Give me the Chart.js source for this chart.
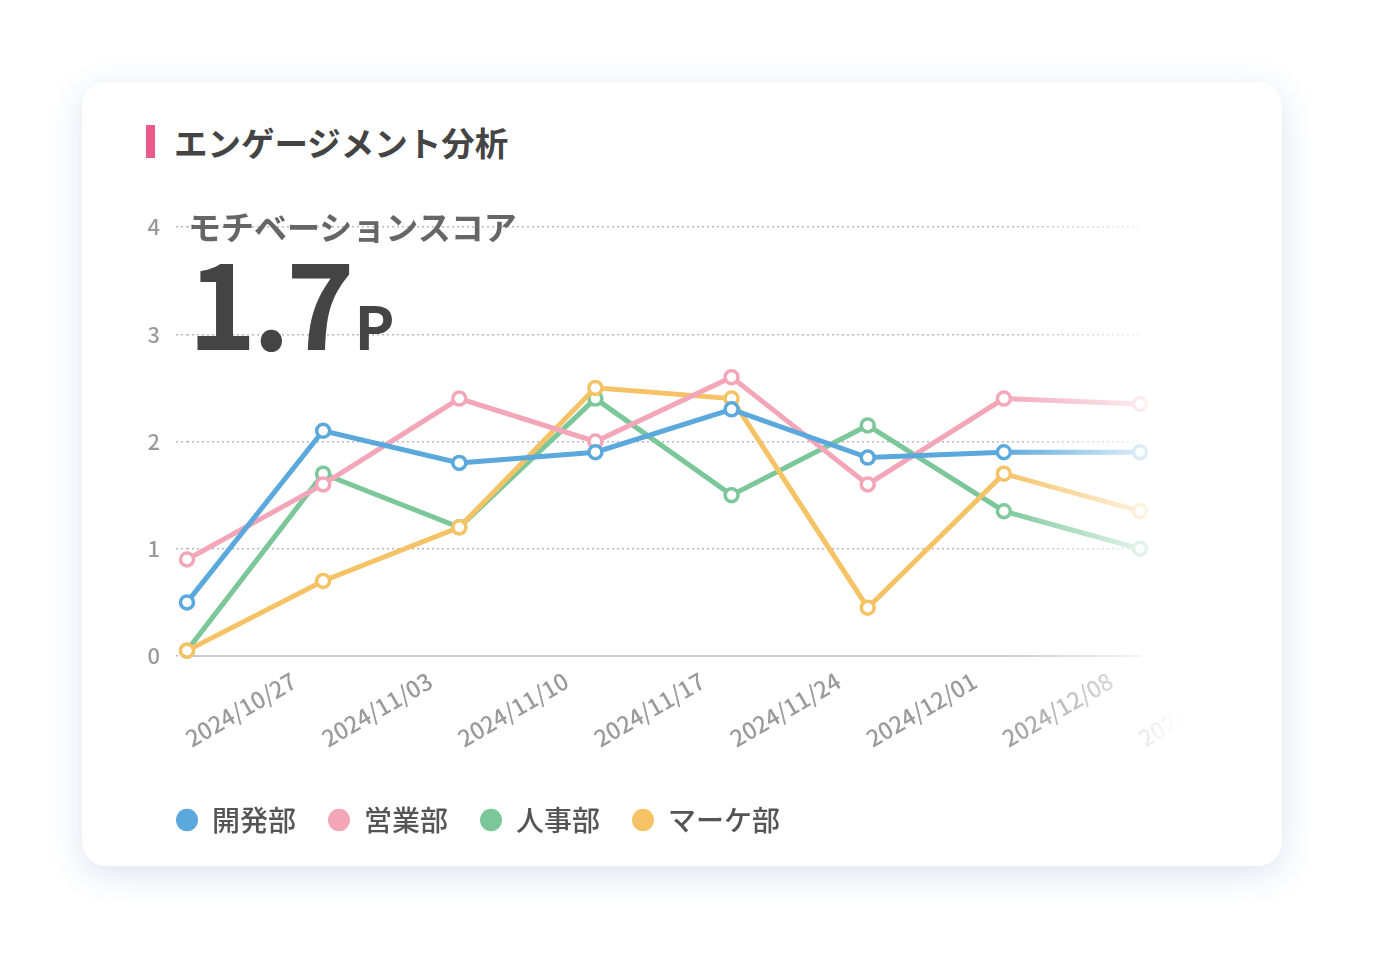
<!DOCTYPE html>
<html lang="ja">
<head>
<meta charset="utf-8">
<title>エンゲージメント分析</title>
<script src="https://cdn.jsdelivr.net/npm/chart.js@4.4.1/dist/chart.umd.min.js"></script>
<style>
  html, body { margin: 0; padding: 0; background: #fff; }
  body { width: 1376px; height: 960px; position: relative; font-family: "Noto Sans CJK JP", "Noto Sans", sans-serif; }
  .card {
    position: absolute; left: 82px; top: 82px; width: 1200px; height: 784px;
    background: #fff; border-radius: 24px;
    box-shadow: 0 8px 32px rgba(60, 100, 170, 0.18);
  }
  .title {
    position: absolute; left: 64px; top: 37px; height: 44px;
    display: flex; align-items: center;
    font-size: 33.5px; font-weight: 700; color: #444;
  }
  .title::before {
    content: ""; display: inline-block; width: 9px; height: 33px;
    background: #ea5b8c; margin-right: 19px;
  }
  .chart-wrap {
    position: absolute; left: 62px; top: 110px; width: 1036px; height: 652px;
  }
  .chart-wrap canvas {
    -webkit-mask-image: linear-gradient(to right, #000 0, #000 856px, transparent 1036px);
    mask-image: linear-gradient(to right, #000 0, #000 856px, transparent 1036px);
  }
  .score {
    position: absolute; left: 106px; top: 122px; pointer-events: none;
  }
  .score .label { font-size: 33px; font-weight: 700; color: #666; line-height: 44px; }
  .score .value { margin-top: -7px; line-height: 1; color: #444; font-weight: 700; white-space: nowrap; }
  .score .num { font-size: 116px; letter-spacing: -4px; }
  .score .unit { font-size: 60px; margin-left: 4px; }
</style>
</head>
<body>
<div class="card">
  <div class="title">エンゲージメント分析</div>
  <div class="chart-wrap"><canvas id="lineChart"></canvas></div>
  <div class="score">
    <div class="label">モチベーションスコア</div>
    <div class="value"><span class="num">1.7</span><span class="unit">P</span></div>
  </div>
</div>
<script>
// 週ごとのラベル
const weekLabels = ["2024/10/27", "2024/11/03", "2024/11/10", "2024/11/17", "2024/11/24", "2024/12/01", "2024/12/08", "2024/12/15"];

// 部署ごとのスコア
const devData = [0.5, 2.1, 1.8, 1.9, 2.3, 1.85, 1.9, 1.9];
const salesData = [0.9, 1.6, 2.4, 2.0, 2.6, 1.6, 2.4, 2.35];
const hrData = [0.05, 1.7, 1.2, 2.4, 1.5, 2.15, 1.35, 1.0];
const marketingData = [0.05, 0.7, 1.2, 2.5, 2.4, 0.45, 1.7, 1.35];

// 縦軸の目盛り
const yTicks = [0, 1, 2, 3, 4];

const FONT = '"Noto Sans CJK JP", "Noto Sans", sans-serif';

function series(label, data, color, order) {
  return {
    label: label,
    data: data,
    borderColor: color,
    backgroundColor: color,
    borderWidth: 5,
    pointRadius: 6.5,
    pointHoverRadius: 6.5,
    pointBorderWidth: 3.5,
    pointBackgroundColor: '#fff',
    pointBorderColor: color,
    tension: 0,
    fill: false,
    clip: false,
    order: order
  };
}

const ctx = document.getElementById('lineChart').getContext('2d');
const lineChart = new Chart(ctx, {
  type: 'line',
  data: {
    labels: weekLabels,
    datasets: [
      series('開発部', devData, '#5aa8dc', 0),
      series('営業部', salesData, '#f4a6b9', 1),
      series('人事部', hrData, '#7cc79a', 3),
      series('マーケ部', marketingData, '#f5c265', 2)
    ]
  },
  options: {
    responsive: true,
    maintainAspectRatio: false,
    animation: false,
    layout: { padding: { left: 0, right: 40, top: 35, bottom: 0 } },
    plugins: {
      tooltip: { enabled: false },
      legend: {
        position: 'bottom',
        align: 'start',
        labels: {
          usePointStyle: true,
          pointStyle: 'circle',
          boxWidth: 22,
          boxHeight: 16,
          pointStyleWidth: 22,
          padding: 32,
          color: '#555',
          font: { family: FONT, size: 28, weight: 500 },
          sort: (a, b) => a.datasetIndex - b.datasetIndex,
          generateLabels: (chart) => {
            const items = Chart.defaults.plugins.legend.labels.generateLabels(chart);
            items.forEach(it => {
              it.fillStyle = it.strokeStyle;
              it.lineWidth = 0;
            });
            return items;
          }
        }
      }
    },
    scales: {
      x: {
        grid: { display: false, drawTicks: false },
        border: { display: true, color: '#c8ccd6', width: 2 },
        ticks: {
          color: '#9a9a9a',
          font: { family: FONT, size: 23, weight: 500 },
          minRotation: 30,
          maxRotation: 30,
          autoSkip: false,
          labelOffset: 107,
          padding: 11
        },
        afterFit: (scale) => {
          scale.height = 118;
          scale.paddingLeft = 0;
          scale.paddingRight = 0;
        }
      },
      y: {
        min: 0,
        max: 4,
        afterBuildTicks: (scale) => { scale.ticks = yTicks.map(v => ({ value: v })); },
        afterFit: (scale) => { scale.width = 43; },
        grid: { color: '#b4b8c4', lineWidth: 1.5, tickLength: 11, tickColor: '#b4b8c4', tickBorderDash: [2, 3] },
        border: { display: false, dash: [2, 3] },
        ticks: {
          color: '#9a9a9a',
          font: { family: FONT, size: 22, weight: 500 },
          padding: 16
        }
      }
    }
  }
});
</script>
</body>
</html>
